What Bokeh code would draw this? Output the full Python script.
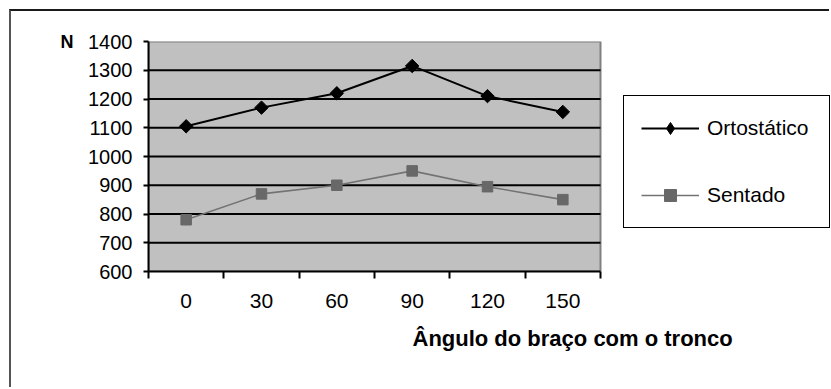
import math

from bokeh.plotting import figure
from bokeh.models import FixedTicker, Legend, LegendItem, LinearAxis, Range1d, Title
from bokeh.embed import file_html
from bokeh.resources import INLINE

# Força (N) em função do ângulo do braço com o tronco
angles = ["0", "30", "60", "90", "120", "150"]
ortostatico = [1105, 1170, 1220, 1315, 1210, 1155]
sentado = [780, 870, 900, 950, 895, 850]
y_ticks = [600, 700, 800, 900, 1000, 1100, 1200, 1300, 1400]
unit = "N"

FONT = "Liberation Sans"

# canvas layout (px): the frame runs to the right edge so the legend box
# can sit beside the grey plotting area without being clipped
CANVAS_W, CANVAS_H = 820, 378
LEFT, TOP, BOTTOM = 137, 30, 118
AREA_W = 452                       # width of the grey plotting area
FRAME_W = CANVAS_W - LEFT

# categories sit in the middle of unit-wide slots; ticks mark the slot edges
n = len(angles)
slots = [i + 0.5 for i in range(n)]
edges = list(range(n + 1))

p = figure(
    width=CANVAS_W, height=CANVAS_H,
    x_range=Range1d(0, n * FRAME_W / AREA_W),
    y_range=Range1d(y_ticks[0], y_ticks[-1]),
    output_backend="svg", toolbar_location=None,
    min_border_left=LEFT, min_border_right=0,
    min_border_top=TOP, min_border_bottom=BOTTOM,
)
p.styles = {
    "margin-top": "9px", "margin-left": "9px",
    "border-top": "2px solid #1a1a1a", "border-left": "2px solid #555555",
}

p.background_fill_color = "white"
p.border_fill_color = "white"
p.outline_line_color = None
p.xgrid.visible = False
p.ygrid.visible = False

# grey plotting area, then its horizontal grid lines
p.quad(left=edges[0], right=edges[-1], bottom=y_ticks[0], top=y_ticks[-1],
       fill_color="#c0c0c0", line_color="#808080", line_width=2)
inner = y_ticks[1:-1]
p.segment(x0=[edges[0]] * len(inner), x1=[edges[-1]] * len(inner),
          y0=inner, y1=inner, line_color="black", line_width=1.8)

# axes
p.xaxis.bounds = (edges[0], edges[-1])
p.xaxis.ticker = FixedTicker(ticks=slots, minor_ticks=edges)
p.xaxis.major_label_overrides = {s: a for s, a in zip(slots, angles)}
p.xaxis.major_tick_out = 0
p.xaxis.major_tick_in = 0
p.xaxis.minor_tick_out = 7
p.xaxis.minor_tick_in = 0
p.xaxis.minor_tick_line_color = "black"
p.xaxis.minor_tick_line_width = 2
p.xaxis.major_label_standoff = 15
p.xaxis.major_label_text_font_size = "21px"

p.yaxis.ticker = FixedTicker(ticks=y_ticks)
p.yaxis.major_tick_out = 5
p.yaxis.major_tick_in = 0
p.yaxis.minor_tick_out = 0
p.yaxis.major_tick_line_width = 2
p.yaxis.major_label_standoff = 11
p.yaxis.major_label_text_font_size = "20px"

for ax in (p.xaxis, p.yaxis):
    ax.axis_line_color = "black"
    ax.axis_line_width = 2
    ax.major_tick_line_color = "black"
    ax.major_label_text_font = FONT
    ax.major_label_text_color = "black"

# unit tag on an outer left axis, level with the top tick label
unit_axis = LinearAxis(
    ticker=FixedTicker(ticks=[y_ticks[-1]]),
    major_label_overrides={y_ticks[-1]: unit},
    axis_line_color=None, major_tick_line_color=None, minor_tick_line_color=None,
    major_label_standoff=6, major_label_text_font=FONT,
    major_label_text_font_size="18px", major_label_text_font_style="bold",
    major_label_text_color="black",
)
p.add_layout(unit_axis, "left")

# series
l1 = p.line(slots, ortostatico, line_color="black", line_width=2)
m1 = p.scatter(slots, ortostatico, marker="square", angle=math.pi / 4,
               size=9.5, color="black")
l2 = p.line(slots, sentado, line_color="#737373", line_width=1.6)
m2 = p.scatter(slots, sentado, marker="square", size=10.5, color="#686868")

# legend swatch for the diamond series (rotated squares draw upright there);
# its single point is NaN so nothing of it shows inside the plot
k1 = p.scatter([math.nan], [math.nan], marker="diamond", color="black")

legend = Legend(
    items=[
        LegendItem(label="Ortostático", renderers=[l1, k1]),
        LegendItem(label="Sentado", renderers=[l2, m2]),
    ],
    location=(AREA_W + 23, 43),
    orientation="vertical",
    padding=17, spacing=37, margin=0,
    glyph_width=58, glyph_height=30, label_height=30, label_standoff=8,
    label_width=105,
    label_text_font=FONT, label_text_font_size="21px", label_text_color="black",
    border_line_color="black", border_line_width=1.5, border_line_alpha=1,
    background_fill_color="white", background_fill_alpha=1,
)
p.add_layout(legend, "center")

# horizontal axis title
p.add_layout(Title(
    text="Ângulo do braço com o tronco", align="left", offset=264, standoff=26,
    text_font=FONT, text_font_size="22px", text_font_style="bold",
    text_color="black",
), "below")

open("out.html", "w").write(file_html(p, INLINE))
